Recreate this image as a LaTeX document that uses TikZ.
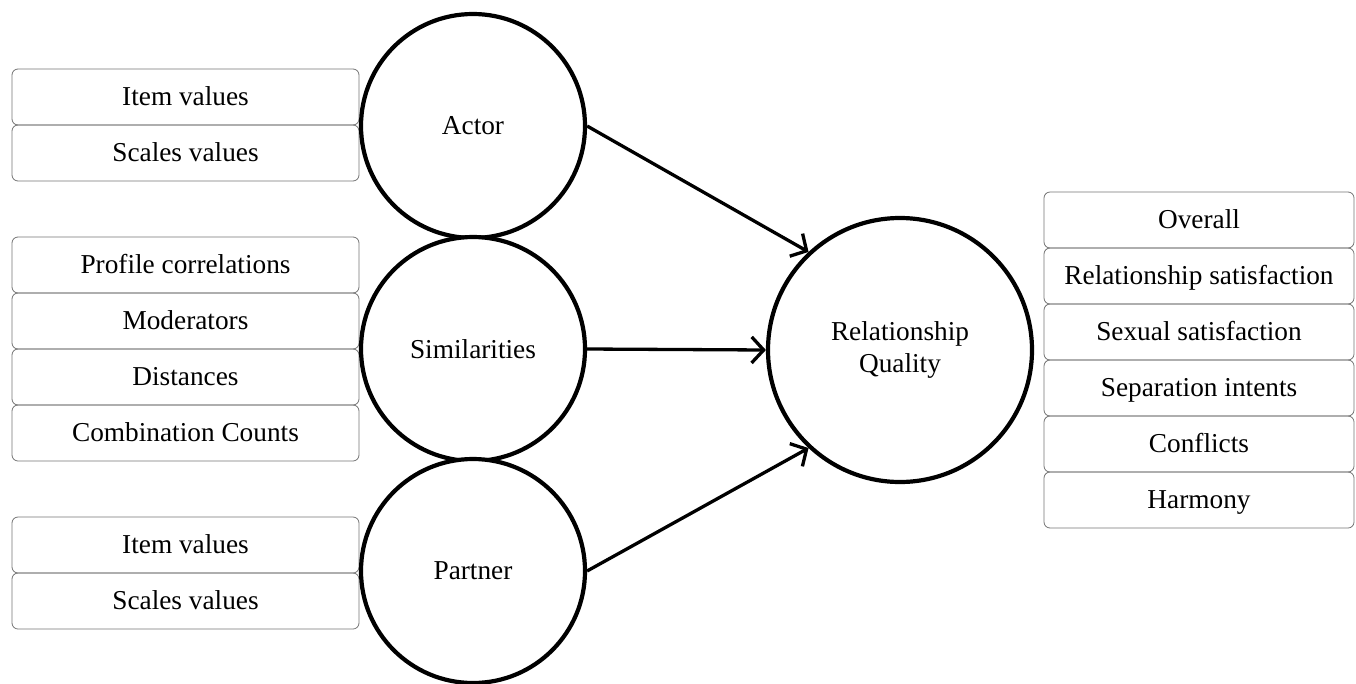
\documentclass[tikz,border=0pt]{standalone}
\usepackage{fontspec}
\setmainfont{Liberation Serif}
\usetikzlibrary{arrows.meta}
\begin{document}
\begin{tikzpicture}[x=1pt,y=-1pt,
  itembox/.style={draw=black!55, line width=0.8pt, rounded corners=6pt, minimum height=56pt, inner sep=0pt, text height=18pt, text depth=2pt, font=\fontsize{27.3}{31}\selectfont},
  lbox/.style={itembox, minimum width=347pt},
  rbox/.style={itembox, minimum width=310pt},
  latent/.style={draw=black, line width=4.2pt, circle, inner sep=0pt, font=\fontsize{27.3}{32}\selectfont, align=center, fill=white},
  path/.style={draw=black, line width=3.3pt, -{Straight Barb[length=12pt,width=26pt,line width=3.3pt]}}
]
\useasboundingbox (0,0) rectangle (1356,683);
% left boxes
\node[lbox] (a1) at (185.5,97) {Item values};
\node[lbox] (a2) at (185.5,153) {Scales values};
\node[lbox] (s1) at (185.5,265) {Profile correlations};
\node[lbox] (s2) at (185.5,321) {Moderators};
\node[lbox] (s3) at (185.5,377) {Distances};
\node[lbox] (s4) at (185.5,433) {Combination Counts};
\node[lbox] (p1) at (185.5,545) {Item values};
\node[lbox] (p2) at (185.5,601) {Scales values};
% right boxes
\node[rbox] (r1) at (1199,220) {Overall};
\node[rbox] (r2) at (1199,276) {Relationship satisfaction};
\node[rbox] (r3) at (1199,332) {Sexual satisfaction};
\node[rbox] (r4) at (1199,388) {Separation intents};
\node[rbox] (r5) at (1199,444) {Conflicts};
\node[rbox] (r6) at (1199,500) {Harmony};
% latent circles
\node[latent, minimum size=224pt] (actor) at (473,126) {Actor};
\node[latent, minimum size=224pt] (sim) at (473,349) {Similarities};
\node[latent, minimum size=224pt] (partner) at (473,571) {Partner};
\node[latent, minimum size=264pt] (rq) at (900,350) {Relationship\\Quality};
% paths
\draw[path] (actor.east) -- (rq.133);
\draw[path] (sim.east) -- (rq.west);
\draw[path] (partner.east) -- (rq.227);
\end{tikzpicture}
\end{document}
